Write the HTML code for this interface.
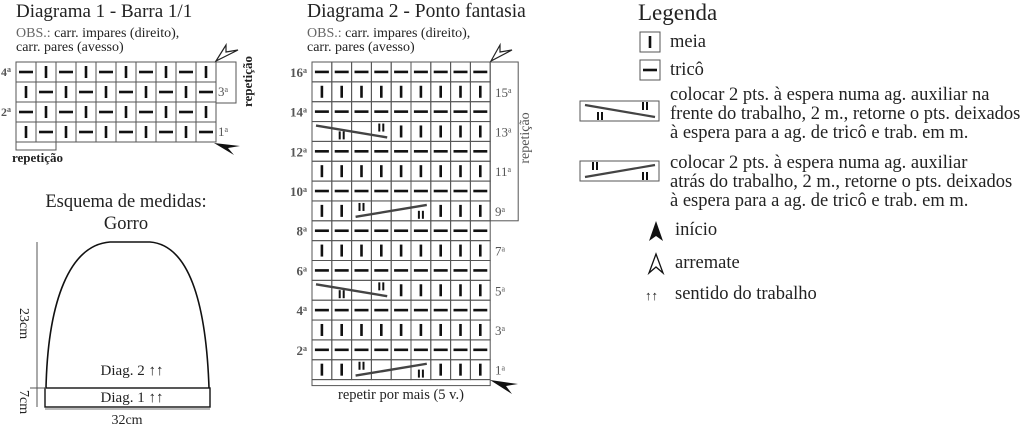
<!DOCTYPE html>
<html><head><meta charset="utf-8"><style>
html,body{margin:0;padding:0;background:#fff;width:1024px;height:424px;overflow:hidden}
svg{display:block;font-family:"Liberation Serif",serif}
.t{fill:#222}
.g{fill:#555}
</style></head><body>
<svg id="s" width="1024" height="424" viewBox="0 0 1024 424">
<g id="shapes"></g>
<!-- Diagram 1 text -->
<text x="16" y="17" font-size="19" class="t">Diagrama 1 - Barra 1/1</text>
<text x="16" y="37" font-size="14" class="t"><tspan fill="#666">OBS.:</tspan> carr. impares (direito),</text>
<text x="16" y="51" font-size="14" class="t">carr. pares (avesso)</text>
<text x="1" y="76" font-size="12" font-weight="bold" class="g">4<tspan font-size="8" dy="-4">a</tspan></text>
<text x="1" y="116" font-size="12" font-weight="bold" class="g">2<tspan font-size="8" dy="-4">a</tspan></text>
<text x="218" y="96" font-size="13" class="g">3<tspan font-size="8" dy="-4">a</tspan></text>
<text x="218" y="136" font-size="13" class="g">1<tspan font-size="8" dy="-4">a</tspan></text>
<text x="12" y="162" font-size="13" font-weight="bold" class="t">repetição</text>
<text transform="translate(252,107) rotate(-90)" font-size="13" font-weight="bold" class="t">repetição</text>
<!-- Hat -->
<text x="126" y="207" font-size="18.5" text-anchor="middle" class="t">Esquema de medidas:</text>
<text x="126" y="229" font-size="18.5" text-anchor="middle" class="t">Gorro</text>
<text x="132" y="375" font-size="15" text-anchor="middle" class="t">Diag. 2 ↑↑</text>
<text x="132" y="402" font-size="15" text-anchor="middle" class="t">Diag. 1 ↑↑</text>
<text x="127" y="424" font-size="14" text-anchor="middle" class="t">32cm</text>
<text transform="translate(20,308) rotate(90)" font-size="14" class="t">23cm</text>
<text transform="translate(20,390) rotate(90)" font-size="14" class="t">7cm</text>
<!-- Diagram 2 text -->
<text x="307" y="17" font-size="19.5" class="t">Diagrama 2 - Ponto fantasia</text>
<text x="307" y="37" font-size="14" class="t"><tspan fill="#666">OBS.:</tspan> carr. impares (direito),</text>
<text x="307" y="51" font-size="14" class="t">carr. pares (avesso)</text>
<text x="401" y="399" font-size="14.5" text-anchor="middle" class="t">repetir por mais (5 v.)</text>
<text transform="translate(529,138) rotate(-90)" font-size="14" text-anchor="middle" class="g">repetição</text>
<g id="lab2" font-size="13" class="g"></g>
<!-- Legend -->
<text x="638" y="20" font-size="23" class="t">Legenda</text>
<text x="670" y="47" font-size="18.5" class="t">meia</text>
<text x="670" y="75" font-size="18.5" class="t">tricô</text>
<text x="670" y="100" font-size="18.5" class="t">colocar 2 pts. à espera numa ag. auxiliar na</text>
<text x="670" y="119" font-size="18.5" class="t">frente do trabalho, 2 m., retorne o pts. deixados</text>
<text x="670" y="138" font-size="18.5" class="t">à espera para a ag. de tricô e trab. em m.</text>
<text x="670" y="168" font-size="18.5" class="t">colocar 2 pts. à espera numa ag. auxiliar</text>
<text x="670" y="187" font-size="18.5" class="t">atrás do trabalho, 2 m., retorne o pts. deixados</text>
<text x="670" y="206" font-size="18.5" class="t">à espera para a ag. de tricô e trab. em m.</text>
<text x="675" y="235" font-size="18.5" class="t">início</text>
<text x="675" y="268" font-size="18.5" class="t">arremate</text>
<text x="675" y="299" font-size="18.5" class="t">sentido do trabalho</text>
<text x="645" y="300" font-size="13" class="t">↑↑</text>
</svg>
<script>
var NS="http://www.w3.org/2000/svg",G=document.getElementById("shapes");
function el(n,a){var e=document.createElementNS(NS,n);for(var k in a)e.setAttribute(k,a[k]);G.appendChild(e);return e}
function rect(x,y,w,h,c,sw){el("rect",{x:x,y:y,width:w,height:h,fill:"none",stroke:c||"#444","stroke-width":sw||1})}
function line(x1,y1,x2,y2,c,w){el("line",{x1:x1,y1:y1,x2:x2,y2:y2,stroke:c||"#111","stroke-width":w||1})}
function knit(cx,cy){line(cx,cy-6,cx,cy+6,"#111",2.6)}
function purl(cx,cy){line(cx-7,cy,cx+7,cy,"#111",2.6)}
function ii(cx,cy){line(cx-2,cy-4,cx-2,cy+4,"#111",2);line(cx+2,cy-4,cx+2,cy+4,"#111",2)}
// Diagram 1
var x0=16,y0=62,cw=20,rh=20;
for(var r=0;r<4;r++)for(var c=0;c<10;c++){
 rect(x0+c*cw,y0+r*rh,cw,rh,"#555");
 var d=((r+c)%2==0);var cx=x0+c*cw+10,cy=y0+r*rh+10;
 if(d)purl(cx,cy);else knit(cx,cy);}
rect(216,62,20,41,"#555");rect(16,142,40,8,"#555");
el("path",{d:"M214,143 L240,146 L228,148 L234,155 Z",fill:"#111"});
el("path",{d:"M216,61 L226,45 L226,52 L238,50 Z",fill:"#fff",stroke:"#222","stroke-width":1.2});
// Diagram 2
var X=312,Y=62,W=19.8,H=19.85;
var rows=[];
for(var r=0;r<16;r++){rows.push(16-r)}
for(var r=0;r<16;r++){var n=rows[r];
 for(var c=0;c<9;c++)rect(X+c*W,Y+r*H,W,H,"#555");
 var cy=Y+r*H+H/2;
 for(var c=0;c<9;c++){var cx=X+c*W+W/2;
  if(n%2==0)purl(cx,cy);
  else if(n==13||n==5){if(c>=4)knit(cx,cy);}
  else if(n==9||n==1){if(c<2||c>5)knit(cx,cy);}
  else knit(cx,cy);}
 var ty=Y+r*H;
 if(n==13||n==5){line(X+4,ty+4,X+4*W-4,ty+H-4,"#444",2.4);ii(X+1.5*W,ty+H-6);ii(X+3.5*W,ty+6);}
 if(n==9||n==1){line(X+2*W+4,ty+H-4,X+6*W-4,ty+4,"#444",2.4);ii(X+2.5*W,ty+6);ii(X+5.5*W,ty+H-6);}
}
rect(X+9*W,Y,28,8*H,"#555");rect(X,Y+16*H,9*W,6,"#555");
el("path",{d:"M490,380 L518,384 L506,386 L512,394 Z",fill:"#111"});
el("path",{d:"M491,61 L500,45 L500,52 L512,50 Z",fill:"#fff",stroke:"#222","stroke-width":1.2});
var L=document.getElementById("lab2");
for(var r=0;r<16;r++){var n=rows[r];var t=document.createElementNS(NS,"text");
 var y=Y+r*H+H/2+5;
 if(n%2==0){t.setAttribute("x",307);t.setAttribute("text-anchor","end");t.setAttribute("font-weight","bold");}
 else{t.setAttribute("x",495);}
 t.setAttribute("y",y);t.innerHTML=n+'<tspan font-size="8" dy="-4">a</tspan>';L.appendChild(t);}
// Hat
el("path",{d:"M46,388 C48,300 70,245 110,242 L150,242 C188,245 206,300 209,388",fill:"none",stroke:"#111","stroke-width":1.6});
rect(45,388,165,19,"#111",1.4);
line(37,242,37,407,"#555",1);line(30,388,46,388,"#555",1);line(45,409,210,409,"#777",1);
// Legend
rect(640,32,20,20,"#555");knit(650,42);
rect(640,60,20,20,"#555");purl(650,70);
rect(580,101,79,20,"#555");line(585,105,655,117,"#444",2.2);ii(600,116);ii(645,106);
rect(580,161,79,20,"#555");line(585,177,655,165,"#444",2.2);ii(595,166);ii(645,176);
el("path",{d:"M656,221 L649,241 L656,236 L663,241 Z",fill:"#111"});
el("path",{d:"M656,254 L649,273 L656,267 L663,273 Z",fill:"#fff",stroke:"#111","stroke-width":1.3});
</script>
</body></html>
